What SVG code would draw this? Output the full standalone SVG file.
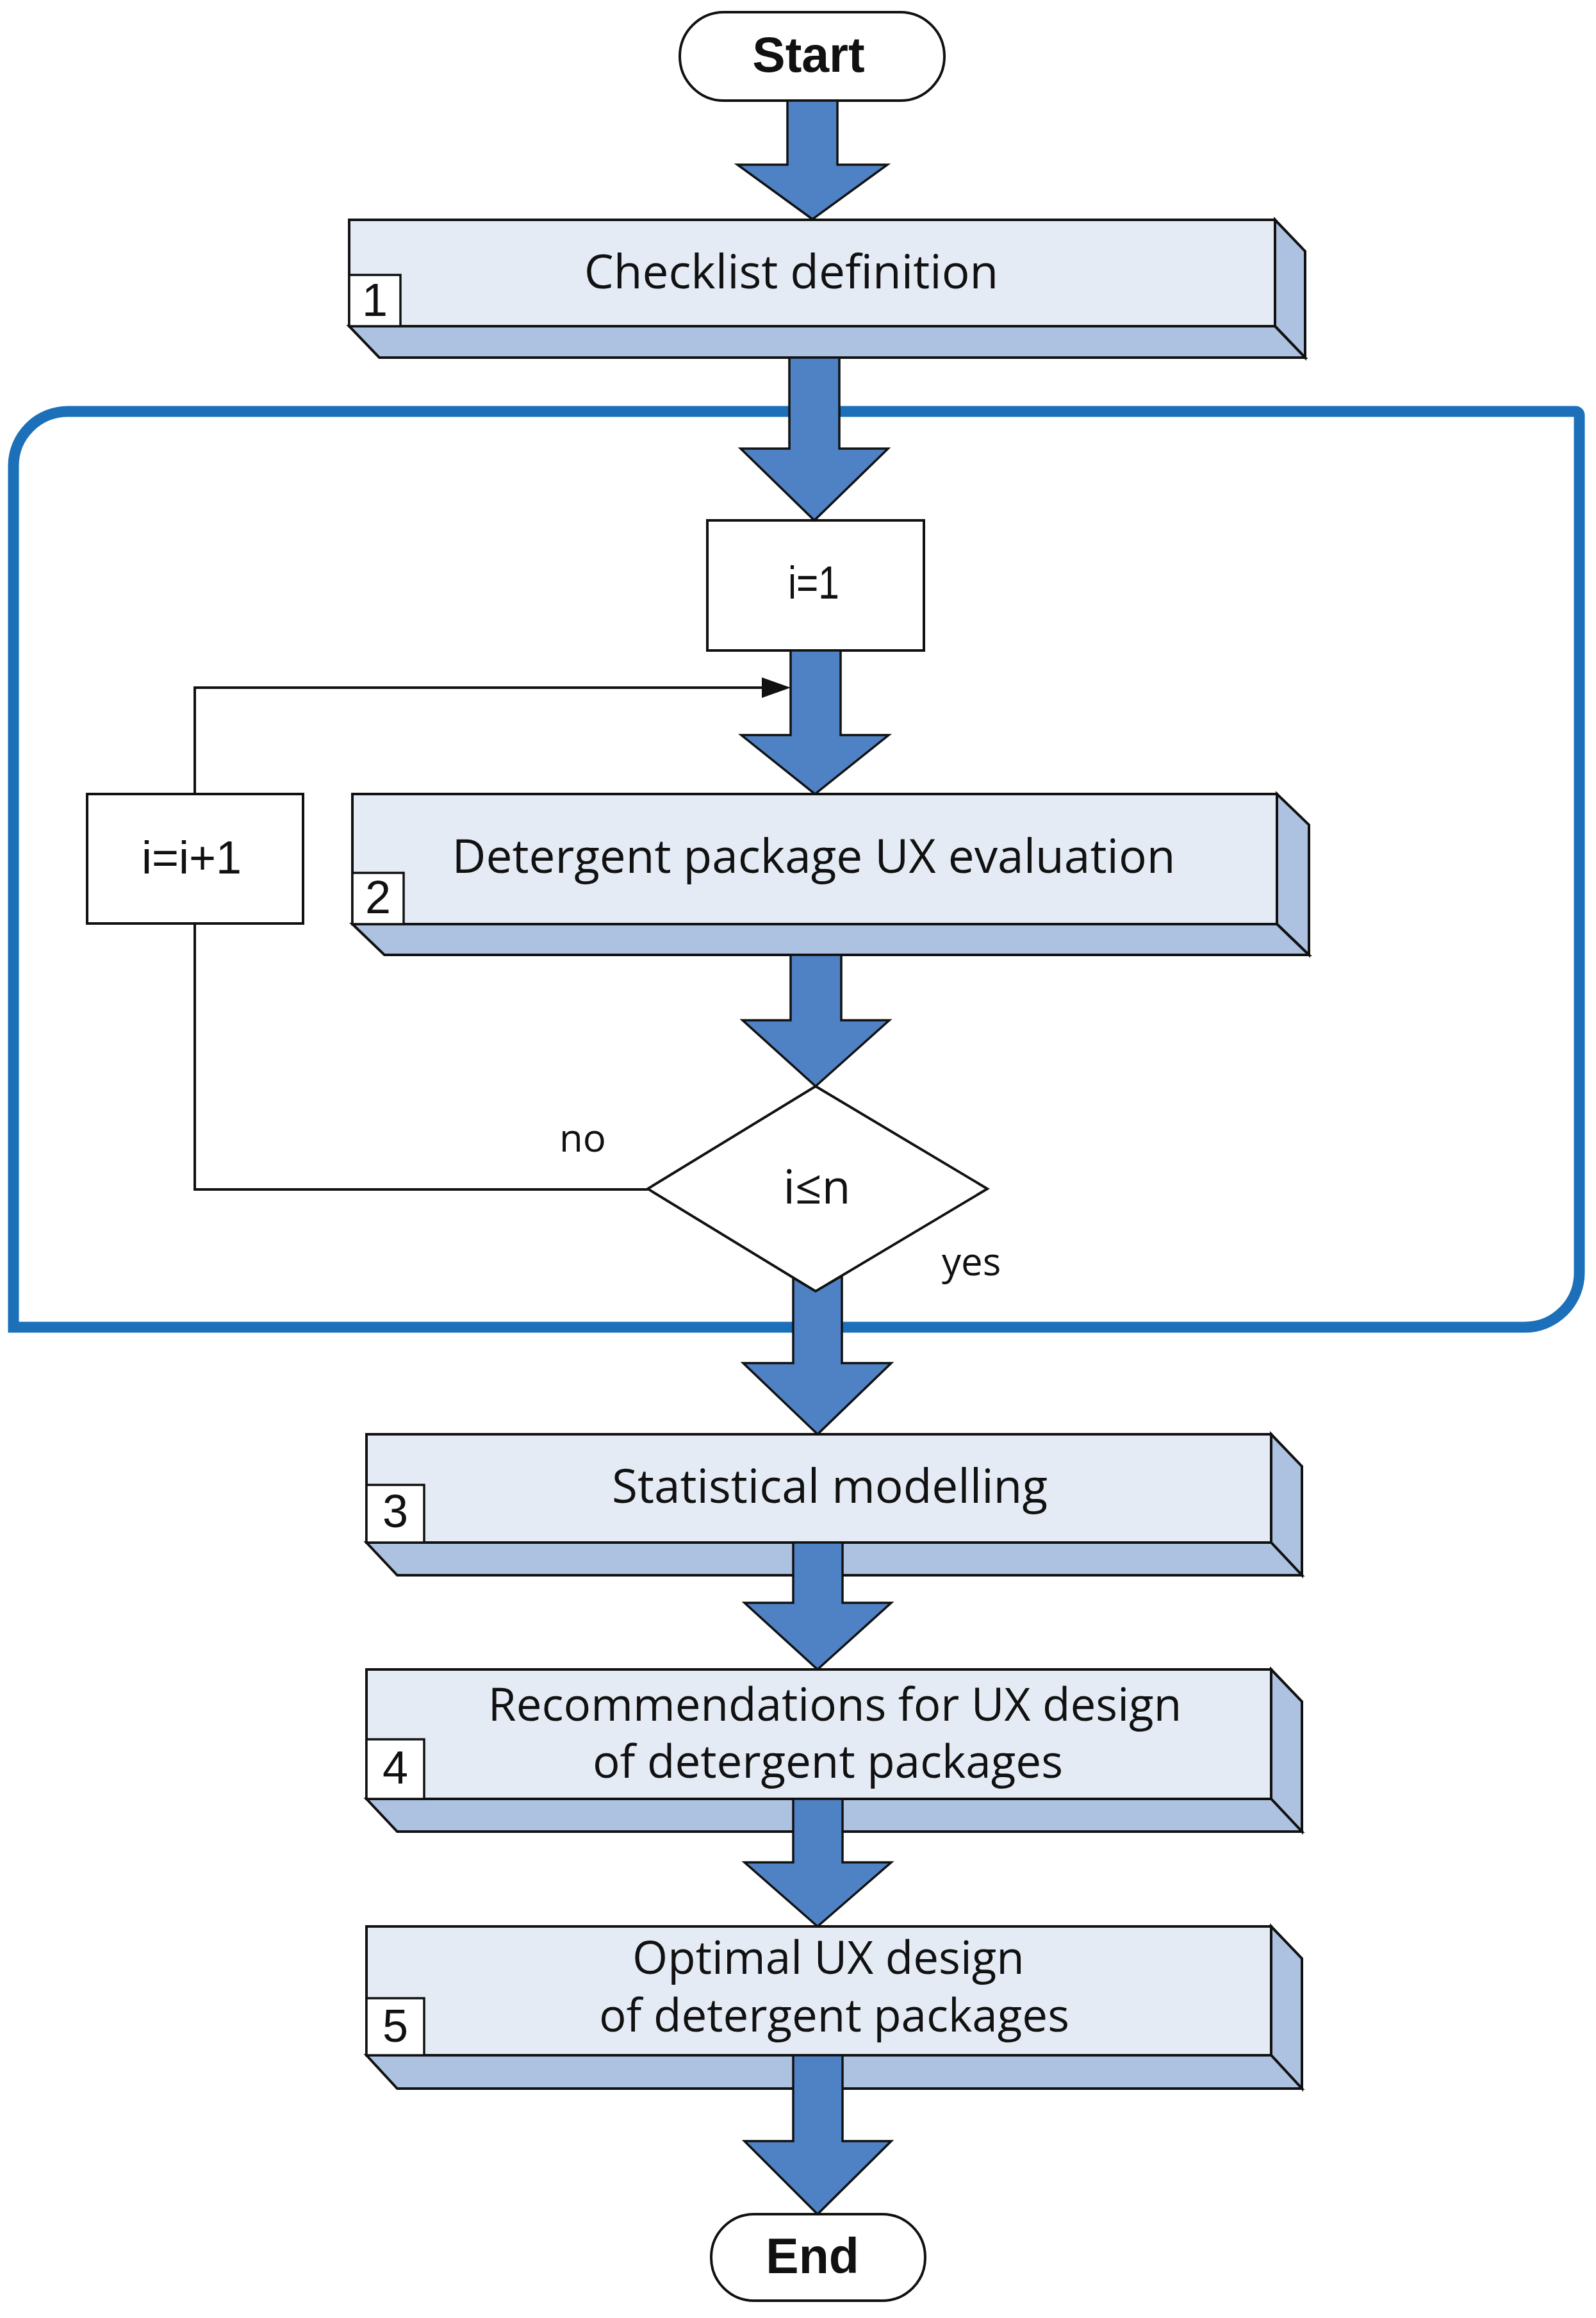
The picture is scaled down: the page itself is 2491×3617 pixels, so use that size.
<svg xmlns="http://www.w3.org/2000/svg" width="2491" height="3617" viewBox="0 0 2491 3617">
<style>
.bg{fill:#ffffff}
.front{fill:#e5ebf5;stroke:#111;stroke-width:4;stroke-linejoin:miter}
.side{fill:#adc2e0;stroke:#111;stroke-width:4;stroke-linejoin:miter}
.num{fill:#ffffff;stroke:#111;stroke-width:3.5}
.plain{fill:#ffffff;stroke:#111;stroke-width:4}
.arrow{fill:#4f82c4;stroke:#111;stroke-width:3.5;stroke-linejoin:miter}
.line{fill:none;stroke:#111;stroke-width:4}
.frame{fill:none;stroke:#1b70b9;stroke-width:17}
.t{font-family:"Open Sans","Noto Sans",sans-serif;font-size:73px;fill:#111;text-anchor:middle}
.t2{font-family:"Open Sans","Noto Sans",sans-serif;font-size:71px;fill:#111;text-anchor:middle}
.lab{font-family:"Open Sans","Noto Sans",sans-serif;font-size:60px;fill:#111}
.n{font-family:"Liberation Sans",Arial,sans-serif;font-size:72px;fill:#111;text-anchor:middle}
.b{font-family:"Liberation Sans",Arial,sans-serif;font-size:77px;font-weight:bold;fill:#111;text-anchor:middle}
</style>
<rect class="bg" x="0" y="0" width="2491" height="3617"/>

<g id="loop-frame">
<path class="frame" d="M21,2071 V727 A85,85 0 0 1 106,642 H2459 A6,6 0 0 1 2465,648 V1986 A85,85 0 0 1 2380,2071 Z"/>
</g>

<g id="start">
<rect class="plain" x="1061" y="19" width="413" height="138" rx="69" ry="69"/>
<text class="b" x="1262" y="112">Start</text>
</g>

<g id="step1">
<rect class="front" x="545" y="343" width="1445" height="166"/>
<polygon class="side" points="1990,343 2037,392 2037,558 1990,509"/>
<polygon class="side" points="545,509 1990,509 2037,558 592,558"/>
<rect class="num" x="545" y="429" width="80" height="80"/>
<text class="n" x="585" y="493">1</text>
<text class="t" x="1235" y="450">Checklist definition</text>
</g>

<g id="init">
<rect class="plain" x="1104" y="812" width="338" height="203"/>
<text class="n" x="1270" y="934" font-size="66" textLength="80" lengthAdjust="spacingAndGlyphs">i=1</text>
</g>

<g id="increment">
<rect class="plain" x="136" y="1239" width="337" height="202"/>
<text class="n" x="299" y="1363" font-size="74">i=i+1</text>
</g>

<g id="step2">
<rect class="front" x="550" y="1239" width="1443" height="203"/>
<polygon class="side" points="1993,1239 2043,1287 2043,1490 1993,1442"/>
<polygon class="side" points="550,1442 1993,1442 2043,1490 600,1490"/>
<rect class="num" x="550" y="1362" width="80" height="80"/>
<text class="n" x="590" y="1425">2</text>
<text class="t" x="1270" y="1362">Detergent package UX evaluation</text>
</g>

<g id="decision">
<polygon class="plain" points="1273,1695 1541,1855 1273,2015 1011,1855"/>
<text class="t" x="1275" y="1878">i≤n</text>
</g>

<g id="step3">
<rect class="front" x="572" y="2238" width="1412" height="169"/>
<polygon class="side" points="1984,2238 2032,2288 2032,2458 1984,2407"/>
<polygon class="side" points="572,2407 1984,2407 2032,2458 620,2458"/>
<rect class="num" x="572" y="2317" width="90" height="90"/>
<text class="n" x="617" y="2383">3</text>
<text class="t" x="1295" y="2345">Statistical modelling</text>
</g>

<g id="step4">
<rect class="front" x="572" y="2605" width="1412" height="202"/>
<polygon class="side" points="1984,2605 2032,2655 2032,2858 1984,2807"/>
<polygon class="side" points="572,2807 1984,2807 2032,2858 620,2858"/>
<rect class="num" x="572" y="2714" width="90" height="93"/>
<text class="n" x="617" y="2783">4</text>
<text class="t2"><tspan x="1303" y="2685">Recommendations for UX design</tspan><tspan x="1292" y="2774">of detergent packages</tspan></text>
</g>

<g id="step5">
<rect class="front" x="572" y="3006" width="1412" height="201"/>
<polygon class="side" points="1984,3006 2032,3056 2032,3259 1984,3207"/>
<polygon class="side" points="572,3207 1984,3207 2032,3259 620,3259"/>
<rect class="num" x="572" y="3118" width="90" height="89"/>
<text class="n" x="617" y="3186">5</text>
<text class="t2"><tspan x="1293" y="3080">Optimal UX design</tspan><tspan x="1302" y="3170">of detergent packages</tspan></text>
</g>

<g id="end">
<rect class="plain" x="1110" y="3455" width="334" height="135" rx="67" ry="67"/>
<text class="b" x="1268" y="3547">End</text>
</g>

<g id="connectors">
<path class="arrow" d="M1229,157 H1307 V257 H1385 L1268,342 L1151,257 H1229 Z"/>
<path class="arrow" d="M1232,558 H1310 V700 H1386 L1271,812 L1156,700 H1232 Z"/>
<path class="arrow" d="M1234,1015 H1312 V1147 H1387 L1272,1239 L1157,1147 H1234 Z"/>
<path class="arrow" d="M1234,1490 H1313 V1592 H1388 L1273,1695 L1159,1592 H1234 Z"/>
<path class="arrow" d="M1238,1994 L1273,2015 L1314,1991 V2127 H1391 L1276,2238 L1160,2127 H1238 Z"/>
<path class="arrow" d="M1238,2407 H1315 V2501 H1391 L1276,2605 L1162,2501 H1238 Z"/>
<path class="arrow" d="M1238,2807 H1315 V2906 H1391 L1276,3006 L1162,2906 H1238 Z"/>
<path class="arrow" d="M1238,3207 H1315 V3341 H1391 L1276,3455 L1162,3341 H1238 Z"/>
<path class="line" d="M1011,1856 H304 V1441 M304,1239 V1073 H1192"/>
<polygon fill="#111" points="1189,1057 1234,1073 1189,1089"/>
<text class="lab" x="873" y="1797">no</text>
<text class="lab" x="1470" y="1990">yes</text>
</g>
</svg>
